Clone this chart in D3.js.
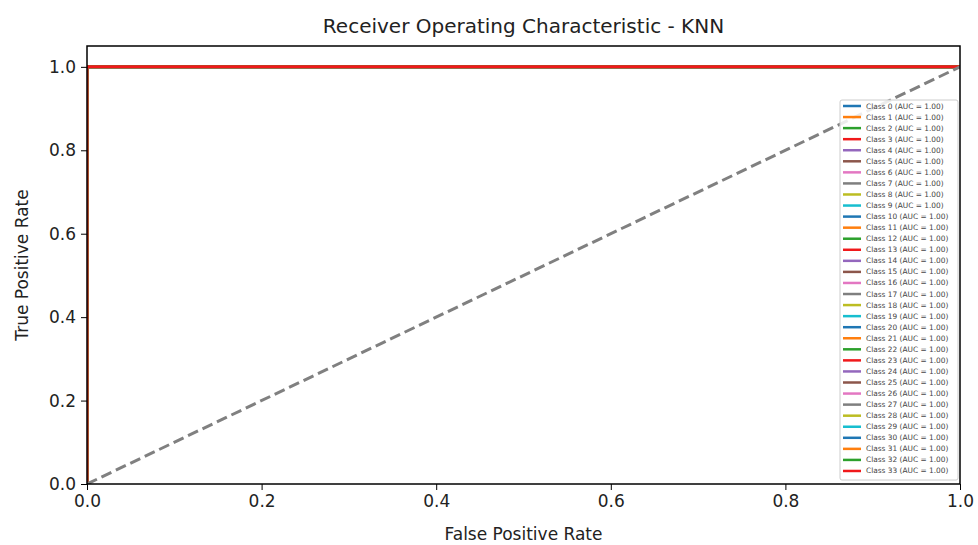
<!DOCTYPE html>
<html lang="en">
<head>
<meta charset="UTF-8"/>
<title>ROC - KNN</title>
<script src="https://d3js.org/d3.v7.min.js"></script>
<style>
    body { margin: 0; background: #fff; }
    text { font-family: "DejaVu Sans", sans-serif; fill: #222; }
    .tick text { font-size: 17px; }
    .tick line { stroke: #000; }
    .domain { display: none; }
</style>
</head>
<body>
<div id="chart"></div>
<script>
// ROC curves of every class: FPR / TPR points
var classes = d3.range(34).map(function (i) { return "Class " + i; });
var aucValues = classes.map(function () { return 1.00; });
var fprPoints = [0, 0, 1];
var tprPoints = [0, 1, 1];
var diagX = [0, 1];
var diagY = [0, 1];
var xTicks = [0, 0.2, 0.4, 0.6, 0.8, 1.0];
var yTicks = [0, 0.2, 0.4, 0.6, 0.8, 1.0];
var colors = ["#1f77b4", "#ff7f0e", "#2ca02c", "#f0191b", "#9467bd",
              "#8c564b", "#e377c2", "#7f7f7f", "#bcbd22", "#17becf"];

var W = 978, H = 545;
var margin = {top: 46, right: 18, bottom: 61, left: 87};
var width = W - margin.left - margin.right,
    height = H - margin.top - margin.bottom;

var svg = d3.select("#chart").append("svg")
    .attr("width", W).attr("height", H);

var g = svg.append("g")
    .attr("transform", "translate(" + margin.left + "," + margin.top + ")");

var x = d3.scaleLinear().domain([0, 1]).range([0, width]);
var y = d3.scaleLinear().domain([0, 1.05]).range([height, 0]);

g.append("defs").append("clipPath").attr("id", "clip")
    .append("rect").attr("width", width).attr("height", height);

var line = d3.line()
    .x(function (d) { return x(d[0]); })
    .y(function (d) { return y(d[1]); });

var curves = g.append("g").attr("clip-path", "url(#clip)");

classes.forEach(function (c, i) {
    curves.append("path")
        .datum(d3.zip(fprPoints, tprPoints))
        .attr("d", line)
        .attr("fill", "none")
        .attr("stroke", colors[i % 10])
        .attr("stroke-width", 3);
});

curves.append("path")
    .datum(d3.zip(diagX, diagY))
    .attr("d", line)
    .attr("fill", "none")
    .attr("stroke", "#808080")
    .attr("stroke-width", 3)
    .attr("stroke-dasharray", "11,5");

// axes
g.append("g")
    .attr("transform", "translate(0," + height + ")")
    .call(d3.axisBottom(x).tickValues(xTicks).tickFormat(d3.format(".1f")).tickSize(6).tickPadding(5));

g.append("g")
    .call(d3.axisLeft(y).tickValues(yTicks).tickFormat(d3.format(".1f")).tickSize(6).tickPadding(5));

g.append("rect")
    .attr("width", width).attr("height", height)
    .attr("fill", "none").attr("stroke", "#000").attr("stroke-width", 1.5);

// titles
svg.append("text")
    .attr("x", margin.left + width / 2).attr("y", 33)
    .attr("text-anchor", "middle").style("font-size", "20px")
    .text("Receiver Operating Characteristic - KNN");

svg.append("text")
    .attr("x", margin.left + width / 2).attr("y", 540)
    .attr("text-anchor", "middle").style("font-size", "17px")
    .text("False Positive Rate");

svg.append("text")
    .attr("transform", "translate(28," + (margin.top + height / 2) + ") rotate(-90)")
    .attr("text-anchor", "middle").style("font-size", "17px")
    .text("True Positive Rate");

// legend
var lgX = 840, lgY = 100, rowH = 11.06;
var legend = svg.append("g").attr("transform", "translate(" + lgX + "," + lgY + ")");
legend.append("rect")
    .attr("width", 118).attr("height", rowH * classes.length + 4)
    .attr("rx", 2)
    .attr("fill", "#fff").attr("fill-opacity", 0.85)
    .attr("stroke", "#ccc");

classes.forEach(function (c, i) {
    var row = legend.append("g").attr("transform", "translate(0," + (6 + i * rowH) + ")");
    row.append("line")
        .attr("x1", 3).attr("x2", 21)
        .attr("stroke", colors[i % 10]).attr("stroke-width", 2.5);
    row.append("text")
        .attr("x", 26).attr("y", 2.5)
        .style("font-size", "7.4px").style("fill", "#444")
        .text(c + " (AUC = " + aucValues[i].toFixed(2) + ")");
});
</script>
</body>
</html>
